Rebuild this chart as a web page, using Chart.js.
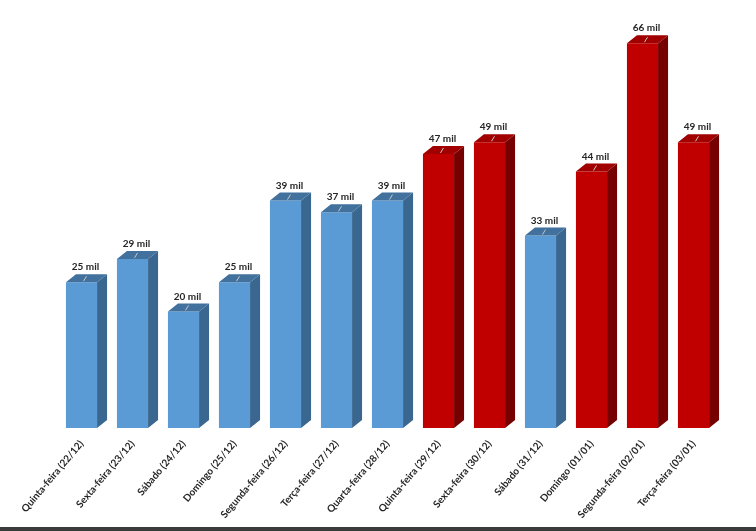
<!DOCTYPE html>
<html>
<head>
<meta charset="utf-8">
<script src="https://cdn.jsdelivr.net/npm/chart.js@4"></script>
<style>
  html, body { margin: 0; padding: 0; background: #fff; }
  #wrap { width: 756px; height: 527px; position: relative; }
  #band { width: 756px; height: 4px; background: #3b3b3b; }
</style>
</head>
<body>
<div id="wrap"><canvas id="chart" width="756" height="527"></canvas></div>
<div id="band"></div>
<script>
// dados
const dias = [
    'Quinta-feira (22/12)', 'Sexta-feira (23/12)', 'Sábado (24/12)', 'Domingo (25/12)',
    'Segunda-feira (26/12)', 'Terça-feira (27/12)', 'Quarta-feira (28/12)', 'Quinta-feira (29/12)',
    'Sexta-feira (30/12)', 'Sábado (31/12)', 'Domingo (01/01)', 'Segunda-feira (02/01)', 'Terça-feira (03/01)'
];
const valores = [25, 29, 20, 25, 39, 37, 39, 47, 49, 33, 44, 66, 49];
const destaque = [0, 0, 0, 0, 0, 0, 0, 1, 1, 0, 1, 1, 1]; // 1 = vermelho

const cores = {
    azul: { frente: '#5b9bd5', lado: '#3a6790', topo: '#41719c' },
    vermelho: { frente: '#c00000', lado: '#760000', topo: '#a00000' }
};
const corDe = i => destaque[i] ? cores.vermelho : cores.azul;

const DX = 10, DY = 8; // profundidade 3D

const barras3d = {
    id: 'barras3d',
    afterDatasetsDraw(chart) {
        const ctx = chart.ctx;
        const meta = chart.getDatasetMeta(0);
        meta.data.forEach((bar, i) => {
            const c = corDe(i);
            const left = bar.x - bar.width / 2;
            const right = bar.x + bar.width / 2;
            const top = bar.y, base = bar.base;
            ctx.save();
            // lado
            ctx.fillStyle = c.lado;
            ctx.beginPath();
            ctx.moveTo(right, top);
            ctx.lineTo(right + DX, top - DY);
            ctx.lineTo(right + DX, base - DY);
            ctx.lineTo(right, base);
            ctx.closePath();
            ctx.fill();
            // topo
            ctx.fillStyle = c.topo;
            ctx.beginPath();
            ctx.moveTo(left, top);
            ctx.lineTo(left + DX, top - DY);
            ctx.lineTo(right + DX, top - DY);
            ctx.lineTo(right, top);
            ctx.closePath();
            ctx.fill();
            // linha guia
            ctx.strokeStyle = '#c8c8c8';
            ctx.lineWidth = 1;
            ctx.beginPath();
            ctx.moveTo(bar.x + 5, top - 6);
            ctx.lineTo(bar.x + 2, top - 1);
            ctx.stroke();
            // rótulo
            ctx.fillStyle = '#262626';
            ctx.font = 'bold 10px Lato';
            ctx.textAlign = 'center';
            ctx.textBaseline = 'middle';
            ctx.fillText(valores[i] + ' mil', bar.x + 4, top - 15);
            ctx.restore();
        });
    }
};

new Chart(document.getElementById('chart'), {
    type: 'bar',
    data: {
        labels: dias,
        datasets: [{
            data: valores,
            backgroundColor: valores.map((v, i) => corDe(i).frente),
            borderWidth: 0,
            barPercentage: 0.61,
            categoryPercentage: 1
        }]
    },
    options: {
        responsive: false,
        animation: false,
        layout: { padding: { left: 56, right: 37, top: 0, bottom: 0 } },
        plugins: { legend: { display: false }, tooltip: { enabled: false } },
        scales: {
            x: {
                grid: { display: false },
                border: { display: false },
                ticks: {
                    minRotation: 50, maxRotation: 50, padding: 2,
                    color: '#262626',
                    font: { family: 'Lato', weight: 'bold', size: 10 }
                },
                afterFit: s => { s.height = 99; }
            },
            y: {
                display: false,
                min: 0, max: 73.4
            }
        }
    },
    plugins: [barras3d]
});
</script>
</body>
</html>
